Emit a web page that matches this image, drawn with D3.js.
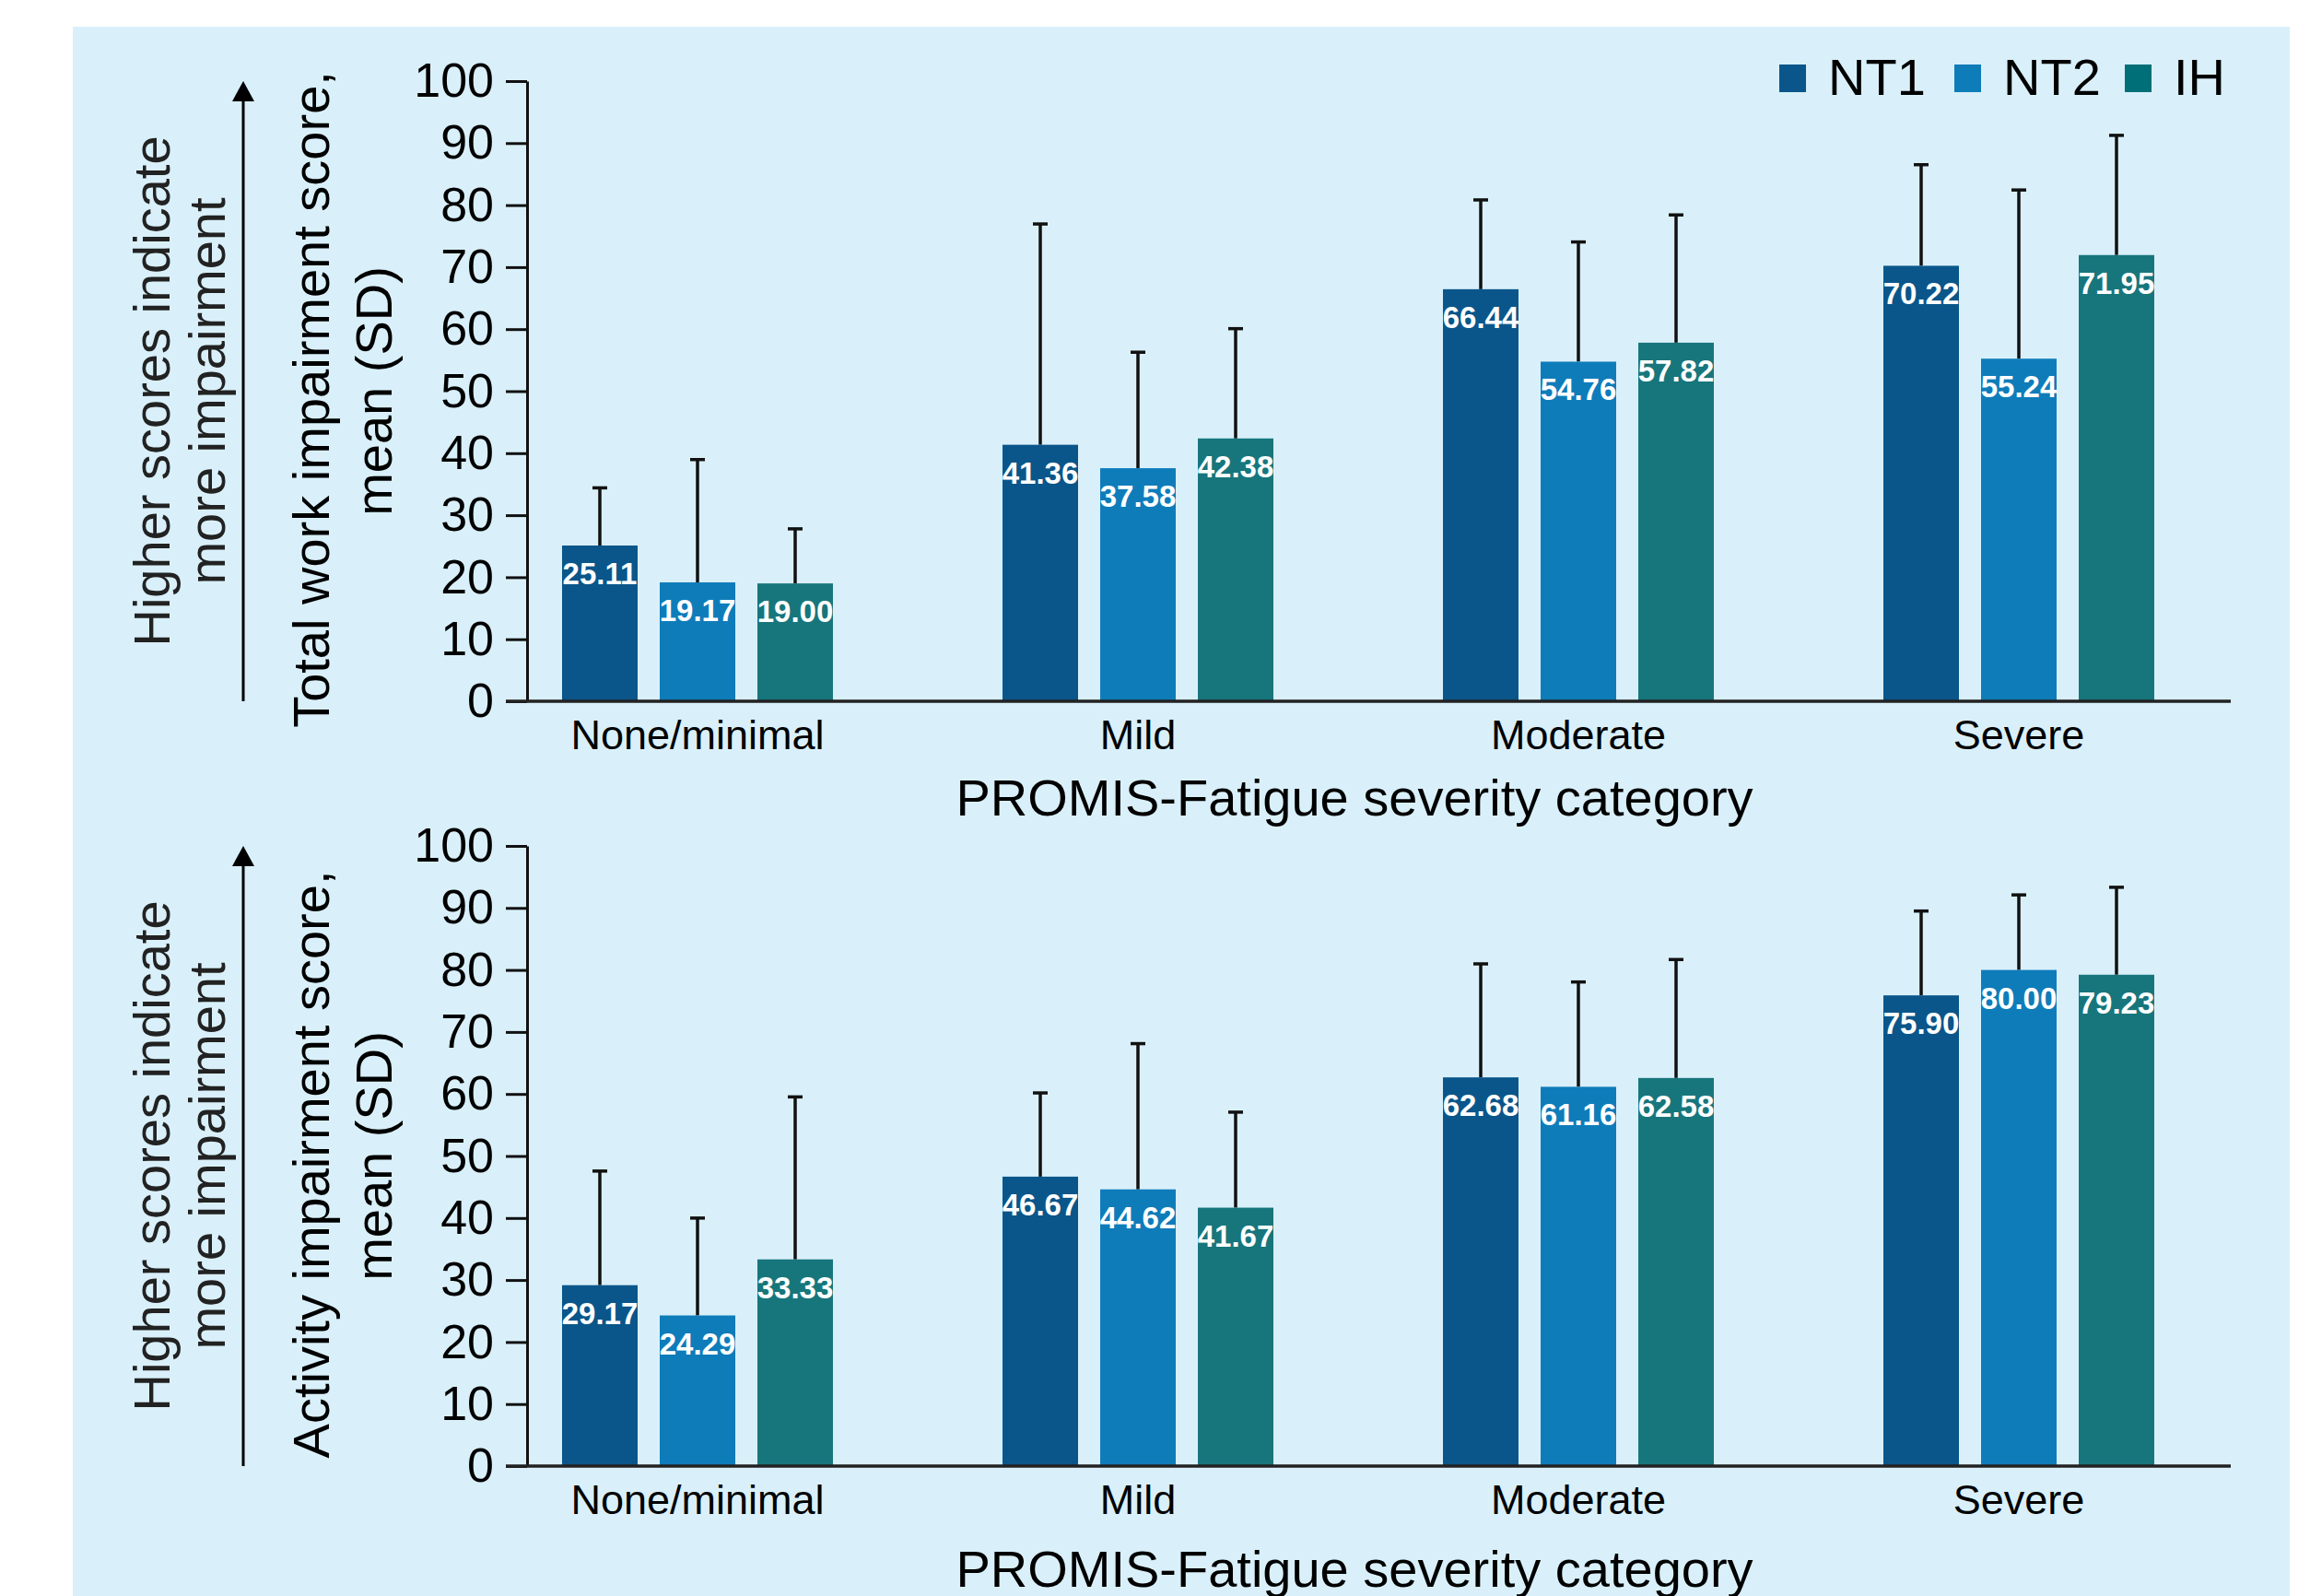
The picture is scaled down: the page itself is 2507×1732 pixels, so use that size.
<!DOCTYPE html>
<html>
<head>
<meta charset="utf-8">
<script src="https://cdn.jsdelivr.net/npm/d3@7"></script>
<style>
body { margin: 0; background: #ffffff; }
svg { display: block; font-family: "Liberation Sans", Arial, sans-serif; }
</style>
</head>
<body>
<svg></svg>
<script>
var width = 2507;
var height = 1732;

//categories and series
var categories = ["None/minimal", "Mild", "Moderate", "Severe"];
var seriesNames = ["NT1", "NT2", "IH"];
var seriesColors = ["#0a568a", "#0f7cba", "#17767c"];
var legendColors = ["#0a568a", "#0f7cba", "#006f78"];
var yTicks = [0, 10, 20, 30, 40, 50, 60, 70, 80, 90, 100];

//total work impairment, mean and SD
var workMeanNT1 = [25.11, 41.36, 66.44, 70.22];
var workMeanNT2 = [19.17, 37.58, 54.76, 55.24];
var workMeanIH = [19.00, 42.38, 57.82, 71.95];
var workSdNT1 = [9.3, 35.6, 14.4, 16.3];
var workSdNT2 = [19.8, 18.7, 19.3, 27.2];
var workSdIH = [8.8, 17.7, 20.6, 19.3];

//activity impairment, mean and SD
var actMeanNT1 = [29.17, 46.67, 62.68, 75.90];
var actMeanNT2 = [24.29, 44.62, 61.16, 80.00];
var actMeanIH = [33.33, 41.67, 62.58, 79.23];
var actSdNT1 = [18.4, 13.5, 18.3, 13.6];
var actSdNT2 = [15.7, 23.5, 16.9, 12.1];
var actSdIH = [26.2, 15.4, 19.1, 14.1];

var svg = d3.select("svg")
    .attr("width", width)
    .attr("height", height);

//light blue panel behind both charts
svg.append("rect")
    .attr("x", 79)
    .attr("y", 29)
    .attr("width", 2485 - 79)
    .attr("height", height - 29)
    .attr("fill", "#d9f0fa");

//x position of each category group and of each series inside a group
var xScale = d3.scalePoint()
    .domain(categories)
    .range([757, 2191]);
var xSub = d3.scalePoint()
    .domain(seriesNames)
    .range([-106, 106]);
var barWidth = 82;

function drawPanel(opts) {
    var yScale = d3.scaleLinear()
        .domain([0, 100])
        .range([opts.bottom, opts.bottom - 673]);
    var g = svg.append("g");

    //build rows from the arrays
    var rows = [];
    categories.forEach(function (c, i) {
        seriesNames.forEach(function (s, j) {
            rows.push({ cat: c, series: s, idx: j, mean: opts.means[j][i], sd: opts.sds[j][i] });
        });
    });

    //error bars (upper SD only)
    g.selectAll(".err")
        .data(rows)
        .enter()
        .append("line")
            .attr("x1", d => xScale(d.cat) + xSub(d.series))
            .attr("x2", d => xScale(d.cat) + xSub(d.series))
            .attr("y1", d => yScale(d.mean))
            .attr("y2", d => yScale(d.mean + d.sd))
            .attr("stroke", "#111")
            .attr("stroke-width", 3.5);
    g.selectAll(".cap")
        .data(rows)
        .enter()
        .append("line")
            .attr("x1", d => xScale(d.cat) + xSub(d.series) - 8)
            .attr("x2", d => xScale(d.cat) + xSub(d.series) + 8)
            .attr("y1", d => yScale(d.mean + d.sd))
            .attr("y2", d => yScale(d.mean + d.sd))
            .attr("stroke", "#111")
            .attr("stroke-width", 3.5);

    //bars
    g.selectAll(".bar")
        .data(rows)
        .enter()
        .append("rect")
            .attr("x", d => xScale(d.cat) + xSub(d.series) - barWidth / 2)
            .attr("y", d => yScale(d.mean))
            .attr("width", barWidth)
            .attr("height", d => yScale(0) - yScale(d.mean))
            .attr("fill", d => seriesColors[d.idx]);

    //value labels inside bars
    g.selectAll(".val")
        .data(rows)
        .enter()
        .append("text")
            .attr("x", d => xScale(d.cat) + xSub(d.series))
            .attr("y", d => yScale(d.mean) + 42)
            .attr("text-anchor", "middle")
            .attr("fill", "#fff")
            .style("font-size", "33px")
            .style("font-weight", "bold")
            .text(d => d.mean.toFixed(2));

    //y axis
    var yAxis = d3.axisLeft(yScale)
        .tickValues(yTicks)
        .tickSize(23)
        .tickSizeOuter(0)
        .tickPadding(13);
    var ya = g.append("g")
        .attr("transform", "translate(572,0)")
        .call(yAxis);
    ya.selectAll("path, line").attr("stroke", "#111").attr("stroke-width", 3);
    ya.selectAll("text")
        .attr("fill", "#000")
        .style("font-size", "52px")
        .style("font-family", "'Liberation Sans', Arial, sans-serif");

    //x axis line and category labels
    g.append("line")
        .attr("x1", 549)
        .attr("x2", 2421)
        .attr("y1", yScale(0))
        .attr("y2", yScale(0))
        .attr("stroke", "#222")
        .attr("stroke-width", 3.5);
    g.selectAll(".cat")
        .data(categories)
        .enter()
        .append("text")
            .attr("x", d => xScale(d))
            .attr("y", yScale(0) + 52)
            .attr("text-anchor", "middle")
            .style("font-size", "45px")
            .text(d => d);

    //x axis title
    g.append("text")
        .attr("x", 1470)
        .attr("y", opts.titleY)
        .attr("text-anchor", "middle")
        .style("font-size", "56px")
        .text("PROMIS-Fatigue severity category");

    //y axis title, two lines
    var mid = (yScale(0) + yScale(100)) / 2;
    g.append("text")
        .attr("transform", "translate(357," + (mid + 9) + ") rotate(-90)")
        .attr("text-anchor", "middle")
        .style("font-size", "56px")
        .text(opts.yTitle);
    g.append("text")
        .attr("transform", "translate(425," + mid + ") rotate(-90)")
        .attr("text-anchor", "middle")
        .style("font-size", "56px")
        .text("mean (SD)");

    //note with arrow
    g.append("text")
        .attr("transform", "translate(184," + mid + ") rotate(-90)")
        .attr("text-anchor", "middle")
        .attr("fill", "#222")
        .style("font-size", "56px")
        .text("Higher scores indicate");
    g.append("text")
        .attr("transform", "translate(244," + mid + ") rotate(-90)")
        .attr("text-anchor", "middle")
        .attr("fill", "#222")
        .style("font-size", "56px")
        .text("more impairment");
    var tipY = yScale(100);
    g.append("line")
        .attr("x1", 264)
        .attr("x2", 264)
        .attr("y1", yScale(0))
        .attr("y2", tipY + 20)
        .attr("stroke", "#000")
        .attr("stroke-width", 3);
    g.append("path")
        .attr("d", "M264," + tipY + " L276," + (tipY + 22) + " L252," + (tipY + 22) + " Z")
        .attr("fill", "#000");
}

drawPanel({
    bottom: 761,
    titleY: 885,
    yTitle: "Total work impairment score,",
    means: [workMeanNT1, workMeanNT2, workMeanIH],
    sds: [workSdNT1, workSdNT2, workSdIH]
});
drawPanel({
    bottom: 1591,
    titleY: 1722,
    yTitle: "Activity impairment score,",
    means: [actMeanNT1, actMeanNT2, actMeanIH],
    sds: [actSdNT1, actSdNT2, actSdIH]
});

//legend
var legendX = [1931, 2121, 2306];
var legend = svg.append("g")
    .selectAll("g")
    .data(seriesNames)
    .enter()
    .append("g")
        .attr("transform", (d, i) => "translate(" + legendX[i] + ",70)");
legend.append("rect")
    .attr("width", 29)
    .attr("height", 30)
    .attr("fill", (d, i) => legendColors[i]);
legend.append("text")
    .attr("x", 53)
    .attr("y", 33)
    .style("font-size", "56px")
    .text(d => d);
</script>
</body>
</html>
